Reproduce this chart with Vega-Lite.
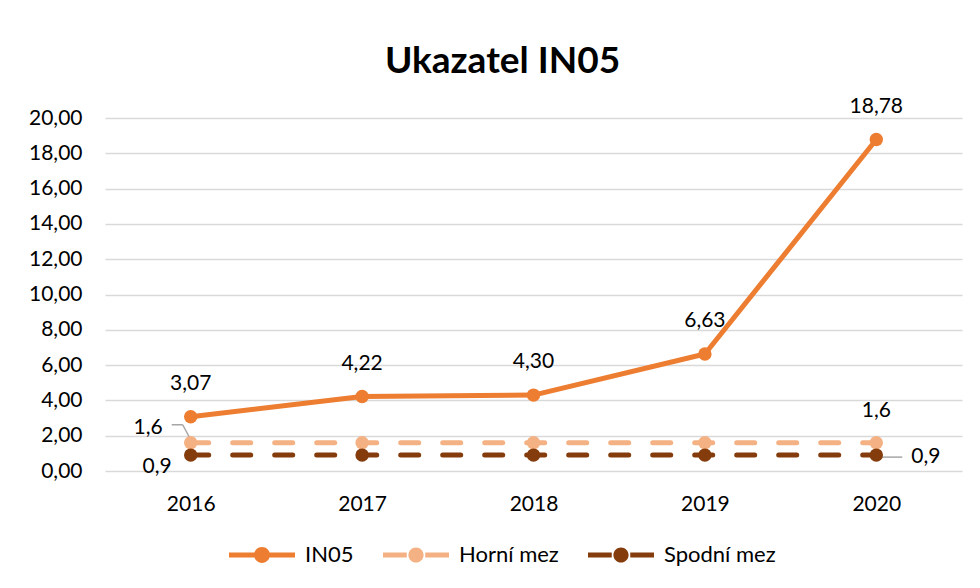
{
  "$schema": "https://vega.github.io/schema/vega-lite/v6.json",
  "width": 857,
  "height": 353,
  "autosize": {"type": "none"},
  "padding": {"left": 105, "top": 118, "right": 18, "bottom": 117},
  "background": "white",
  "config": {
    "font": "Lato",
    "locale": {"number": {"decimal": ",", "thousands": " ", "grouping": [3], "currency": ["", " Kč"]}},
    "view": {"stroke": null},
    "axis": {"labelFont": "Lato", "labelFontSize": 21, "labelColor": "#000000", "gridColor": "#D9D9D9", "gridWidth": 1.3, "domain": false, "ticks": false, "title": null},
    "legend": {"orient": "none", "legendX": 124, "legendY": 404, "direction": "horizontal", "title": null, "labelFontSize": 22, "labelFont": "Lato", "labelColor": "#000000", "symbolSize": 4356, "columnPadding": 29, "labelOffset": 10, "padding": 0}
  },
  "title": {"text": "Ukazatel IN05", "fontSize": 37, "fontWeight": "bold", "font": "Lato", "color": "#000000", "anchor": "middle", "frame": "group", "offset": 48, "baseline": "alphabetic", "dx": -31, "dy": 62},
  "data": {"values": [
    {"year": "2016", "series": "IN05", "value": 3.07},
    {"year": "2017", "series": "IN05", "value": 4.22},
    {"year": "2018", "series": "IN05", "value": 4.30},
    {"year": "2019", "series": "IN05", "value": 6.63},
    {"year": "2020", "series": "IN05", "value": 18.78},
    {"year": "2016", "series": "Horní mez", "value": 1.6},
    {"year": "2017", "series": "Horní mez", "value": 1.6},
    {"year": "2018", "series": "Horní mez", "value": 1.6},
    {"year": "2019", "series": "Horní mez", "value": 1.6},
    {"year": "2020", "series": "Horní mez", "value": 1.6},
    {"year": "2016", "series": "Spodní mez", "value": 0.9},
    {"year": "2017", "series": "Spodní mez", "value": 0.9},
    {"year": "2018", "series": "Spodní mez", "value": 0.9},
    {"year": "2019", "series": "Spodní mez", "value": 0.9},
    {"year": "2020", "series": "Spodní mez", "value": 0.9}
  ]},
  "encoding": {
    "x": {"field": "year", "type": "ordinal", "scale": {"type": "point", "padding": 0.5}, "axis": {"labelAngle": 0, "grid": false, "labelPadding": 22}},
    "y": {"field": "value", "type": "quantitative", "scale": {"domain": [0, 20], "nice": false}, "axis": {"values": [0, 2, 4, 6, 8, 10, 12, 14, 16, 18, 20], "format": ".2f", "labelPadding": 23, "grid": true}},
    "color": {"field": "series", "type": "nominal", "scale": {"domain": ["IN05", "Horní mez", "Spodní mez"], "range": ["#ED7D31", "#F4B183", "#843C0C"]},
      "legend": {
        "encode": {"symbols": {"update": {
          "shape": {"signal": "datum.value === 'IN05' ? 'M-1,-0.076H1V0.076H-1Z M0.24,0A0.24,0.24 0 1 1 -0.24,0A0.24,0.24 0 1 1 0.24,0Z' : 'M-1,-0.076H-0.28V0.076H-1Z M0.28,-0.076H1V0.076H0.28Z M0.23,0A0.23,0.23 0 1 1 -0.23,0A0.23,0.23 0 1 1 0.23,0Z'"},
          "fill": {"signal": "scale('color', datum.value)"},
          "size": {"value": 4356},
          "strokeWidth": {"value": 0},
          "opacity": {"value": 1}
        }}}}
    }
  },
  "layer": [
    {
      "transform": [{"filter": "datum.series === 'Horní mez' && datum.year === '2016'"}],
      "mark": {"type": "rule", "color": "#A6A6A6", "strokeWidth": 1.5, "xOffset": -19, "x2Offset": -8, "yOffset": -18, "y2Offset": -18},
      "encoding": {"color": {"value": "#A6A6A6"}, "x2": {"field": "year"}, "y2": {"field": "value"}}
    },
    {
      "transform": [{"filter": "datum.series === 'Horní mez' && datum.year === '2016'"}],
      "mark": {"type": "rule", "color": "#A6A6A6", "strokeWidth": 1.5, "xOffset": -8, "x2Offset": 0, "yOffset": -18, "y2Offset": -3},
      "encoding": {"color": {"value": "#A6A6A6"}, "x2": {"field": "year"}, "y2": {"field": "value"}}
    },
    {
      "transform": [{"filter": "datum.series === 'Spodní mez' && datum.year === '2020'"}],
      "mark": {"type": "rule", "color": "#A6A6A6", "strokeWidth": 1.5, "xOffset": 2, "x2Offset": 26, "yOffset": 2, "y2Offset": 2},
      "encoding": {"color": {"value": "#A6A6A6"}, "x2": {"field": "year"}, "y2": {"field": "value"}}
    },
    {
      "transform": [{"filter": "datum.series !== 'IN05'"}],
      "mark": {"type": "line", "strokeWidth": 5, "strokeDash": [18, 24], "strokeCap": "round"}
    },
    {
      "transform": [{"filter": "datum.series === 'IN05'"}],
      "mark": {"type": "line", "strokeWidth": 5, "strokeCap": "round", "strokeJoin": "round"}
    },
    {
      "mark": {"type": "point", "filled": true, "size": 180, "opacity": 1}
    },
    {
      "transform": [{"filter": "datum.series === 'IN05'"}],
      "mark": {"type": "text", "fontSize": 21, "font": "Lato", "dy": -33, "align": "center", "baseline": "middle"},
      "encoding": {"color": {"value": "#000000"}, "text": {"field": "value", "type": "quantitative", "format": ".2f"}}
    },
    {
      "transform": [{"filter": "datum.series === 'Horní mez' && datum.year === '2016'"}],
      "mark": {"type": "text", "fontSize": 21, "font": "Lato", "dx": -28, "dy": -15, "align": "right", "baseline": "middle"},
      "encoding": {"color": {"value": "#000000"}, "text": {"field": "value", "type": "quantitative", "format": ".1f"}}
    },
    {
      "transform": [{"filter": "datum.series === 'Horní mez' && datum.year === '2020'"}],
      "mark": {"type": "text", "fontSize": 21, "font": "Lato", "dy": -32, "align": "center", "baseline": "middle"},
      "encoding": {"color": {"value": "#000000"}, "text": {"field": "value", "type": "quantitative", "format": ".1f"}}
    },
    {
      "transform": [{"filter": "datum.series === 'Spodní mez' && datum.year === '2016'"}],
      "mark": {"type": "text", "fontSize": 21, "font": "Lato", "dx": -19, "dy": 12, "align": "right", "baseline": "middle"},
      "encoding": {"color": {"value": "#000000"}, "text": {"field": "value", "type": "quantitative", "format": ".1f"}}
    },
    {
      "transform": [{"filter": "datum.series === 'Spodní mez' && datum.year === '2020'"}],
      "mark": {"type": "text", "fontSize": 21, "font": "Lato", "dx": 35, "dy": 2, "align": "left", "baseline": "middle"},
      "encoding": {"color": {"value": "#000000"}, "text": {"field": "value", "type": "quantitative", "format": ".1f"}}
    }
  ]
}
